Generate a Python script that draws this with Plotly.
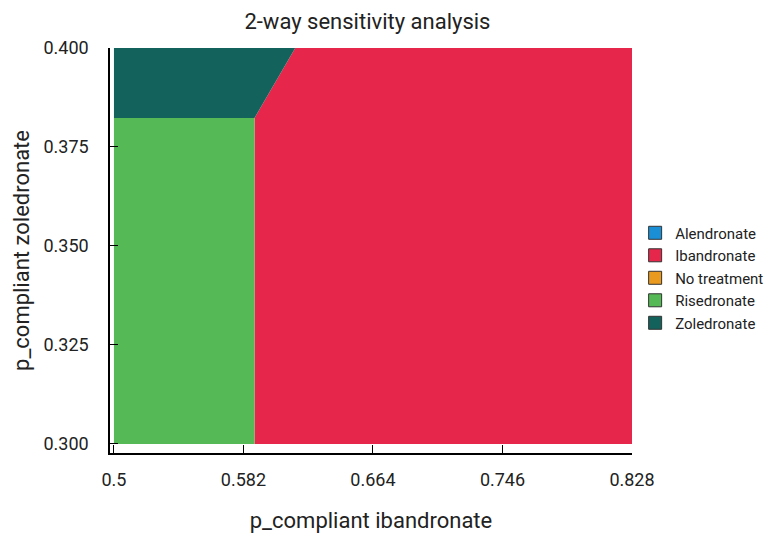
# 2-way sensitivity analysis: decision regions by compliance rates
import plotly.graph_objects as go

# axis ticks
x_ticks = [0.5, 0.582, 0.664, 0.746, 0.828]
x_tick_labels = ["0.5", "0.582", "0.664", "0.746", "0.828"]
y_ticks = [0.300, 0.325, 0.350, 0.375, 0.400]
y_tick_labels = ["0.300", "0.325", "0.350", "0.375", "0.400"]

# analysis bounds
x_bounds = [0.5, 0.828]
y_bounds = [0.300, 0.400]

# boundaries between optimal strategies
risedronate_x_max = 0.589   # green region right edge
zoledronate_y_min = 0.3823  # green / teal split
zoledronate_x_top = 0.6148  # teal region right edge at y = 0.400

strategies = ["Alendronate", "Ibandronate", "No treatment", "Risedronate", "Zoledronate"]
colors = ["#1b8fd6", "#e6264b", "#e99a1f", "#55b955", "#14625c"]
col = dict(zip(strategies, colors))

x0, x1 = x_bounds
y0, y1 = y_bounds

# polygons for each region
regions = {
    "Ibandronate": ([risedronate_x_max, x1, x1, zoledronate_x_top, risedronate_x_max],
                    [y0, y0, y1, y1, zoledronate_y_min]),
    "Risedronate": ([x0, risedronate_x_max, risedronate_x_max, x0],
                    [y0, y0, zoledronate_y_min, zoledronate_y_min]),
    "Zoledronate": ([x0, risedronate_x_max, zoledronate_x_top, x0],
                    [zoledronate_y_min, zoledronate_y_min, y1, y1]),
}

fig = go.Figure()

for name, (xs, ys) in regions.items():
    fig.add_trace(go.Scatter(
        x=xs, y=ys, fill="toself", mode="lines",
        line=dict(width=0), fillcolor=col[name],
        showlegend=False, hoverinfo="skip",
    ))

# legend entries (squares)
for name in strategies:
    fig.add_trace(go.Scatter(
        x=[None], y=[None], mode="markers", name=name,
        marker=dict(symbol="square", size=13, color=col[name],
                    line=dict(color="#333333", width=1)),
    ))

font_family = "Roboto, Arial"

# note: page body adds ~8px offset, margins below compensate
fig.update_layout(
    width=773, height=540,
    margin=dict(l=98, r=148, t=40, b=95),
    paper_bgcolor="white", plot_bgcolor="white",
    font=dict(family=font_family, color="#222222"),
    title=dict(text="2-way sensitivity analysis", x=0.465, xanchor="center",
               y=0.975, yanchor="middle", font=dict(size=22, color="#222222")),
    legend=dict(x=1.006, xanchor="left", y=0.432, yanchor="middle",
                font=dict(size=15), itemwidth=30, tracegroupgap=0,
                bgcolor="rgba(0,0,0,0)"),
)

fig.update_xaxes(
    range=[0.4975, 0.828], tickvals=x_ticks, ticktext=x_tick_labels,
    showgrid=False, zeroline=False, showline=True, linecolor="black", linewidth=1.5,
    ticks="inside", ticklen=8, tickcolor="black", tickwidth=1,
    tickfont=dict(size=18), ticklabelstandoff=10,
    title=dict(text="p_compliant ibandronate", font=dict(size=22), standoff=23),
)
fig.update_yaxes(
    range=[0.2977, 0.400], tickvals=y_ticks, ticktext=y_tick_labels,
    showgrid=False, zeroline=False, showline=True, linecolor="black", linewidth=1.5,
    ticks="inside", ticklen=8, tickcolor="black", tickwidth=1,
    tickfont=dict(size=18), ticklabelstandoff=16,
    title=dict(text="p_compliant zoledronate", font=dict(size=22), standoff=8),
)

fig.write_html("out.html")
